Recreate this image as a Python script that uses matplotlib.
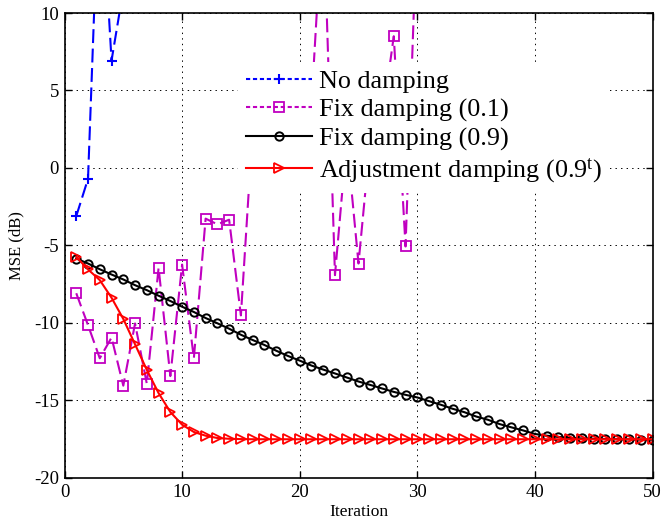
import numpy as np
import matplotlib
matplotlib.use('Agg')
import matplotlib.pyplot as plt
from matplotlib.lines import Line2D

plt.rcParams['font.family'] = ['Liberation Serif', 'DejaVu Serif']
plt.rcParams['mathtext.fontset'] = 'custom'
plt.rcParams['mathtext.rm'] = 'Liberation Serif'
plt.rcParams['mathtext.it'] = 'Liberation Serif:italic'
plt.rcParams['axes.unicode_minus'] = False
plt.rcParams['lines.scale_dashes'] = False

iterations = list(range(1, 51))

# values above 10 dB run off the top of the chart
no_damping = [-3.12, -0.71, 20.0, 6.93, 11.5, 14.0, 17.5, 21.0, 24.5, 28.0,
              31.0, 34.5, 38.0, 41.0, 44.5, 48.0, 51.0, 54.5, 58.0, 61.0,
              64.5, 68.0, 71.0, 74.5, 78.0, 81.0, 84.5, 88.0, 91.0, 94.5,
              98.0, 101.0, 104.5, 108.0, 111.0, 114.5, 118.0, 121.0, 124.5, 128.0,
              131.0, 134.5, 138.0, 141.0, 144.5, 148.0, 151.0, 154.5, 158.0, 161.0]

fix_damping_01 = [-8.10, -10.16, -12.30, -10.96, -14.07, -10.05, -13.95, -6.46, -13.45, -6.25,
                  -12.30, -3.28, -3.65, -3.35, -9.53, 2.5, 4.8, 3.2, 5.4, 6.3,
                  4.1, 17.2, -6.93, 1.8, -6.18, 1.8, 3.0, 8.5, -5.08, 16.5,
                  21.3, 19.8, 24.6, 23.1, 27.5, 25.9, 29.4, 28.2, 31.6, 30.3,
                  33.8, 32.1, 35.2, 34.7, 37.9, 36.4, 39.5, 38.8, 41.2, 40.6]

fix_damping_09 = [-5.86, -6.18, -6.55, -6.89, -7.21, -7.58, -7.90, -8.26, -8.60, -8.97,
                  -9.31, -9.70, -10.04, -10.39, -10.78, -11.12, -11.44, -11.81, -12.15, -12.45,
                  -12.77, -13.03, -13.28, -13.54, -13.80, -14.02, -14.25, -14.47, -14.66, -14.83,
                  -15.07, -15.30, -15.56, -15.78, -16.06, -16.27, -16.55, -16.76, -16.96, -17.19,
                  -17.30, -17.38, -17.45, -17.48, -17.50, -17.52, -17.53, -17.54, -17.55, -17.56]

adjust_damping = [-5.75, -6.56, -7.25, -8.39, -9.76, -11.40, -13.05, -14.55, -15.77, -16.59,
                  -17.06, -17.30, -17.45, -17.50, -17.52, -17.53, -17.53, -17.53, -17.53, -17.53,
                  -17.53, -17.53, -17.53, -17.53, -17.53, -17.53, -17.53, -17.53, -17.53, -17.53,
                  -17.53, -17.53, -17.53, -17.53, -17.53, -17.53, -17.53, -17.53, -17.53, -17.53,
                  -17.53, -17.53, -17.53, -17.53, -17.53, -17.53, -17.53, -17.53, -17.53, -17.53]

labels = ['No damping', 'Fix damping (0.1)', 'Fix damping (0.9)',
          'Adjustment damping (0.9$^{\\mathrm{t}}$)']
colors = ['#0000ff', '#c000c0', '#000000', '#ff0000']

fig = plt.figure(figsize=(6.62, 5.22), dpi=100)
ax = fig.add_axes([64.5 / 662, 1 - 477.5 / 522, (652.5 - 64.5) / 662, (477.5 - 13) / 522])

ax.plot(iterations, no_damping, color=colors[0], lw=1.5, dashes=(10, 4),
        marker='+', ms=7, mew=1.5)
ax.plot(iterations, fix_damping_01, color=colors[1], lw=1.5, dashes=(10, 4),
        marker='s', ms=6.5, mew=1.3, mfc='none')
ax.plot(iterations, fix_damping_09, color=colors[2], lw=1.5,
        marker='o', ms=6, mew=1.4, mfc='none')
ax.plot(iterations, adjust_damping, color=colors[3], lw=1.5,
        marker='>', ms=6.5, mew=1.3, mfc='none')

ax.set_xlim(0, 50)
ax.set_ylim(-20, 10)
ax.set_xticks(np.arange(0, 51, 10))
ax.set_yticks(np.arange(-20, 11, 5))
ax.grid(True, color='black', lw=0.7, linestyle=(0, (1, 3)))
ax.tick_params(direction='in', length=5, width=1, top=True, right=True, labelsize=13.5)
ax.tick_params(axis='x', pad=5)
ax.tick_params(axis='y', pad=4)
for sp in ax.spines.values():
    sp.set_linewidth(1.2)

ax.set_xlabel('Iteration', fontsize=12.5, labelpad=2)
ax.set_ylabel('MSE (dB)', fontsize=12, labelpad=7)

# legend samples use shorter dashes than the plotted curves
handles = [
    Line2D([], [], color=colors[0], lw=1.5, dashes=(3, 2), marker='+', ms=7, mew=1.5),
    Line2D([], [], color=colors[1], lw=1.5, dashes=(3, 2), marker='s', ms=6.5, mew=1.3, mfc='none'),
    Line2D([], [], color=colors[2], lw=1.5, marker='o', ms=6, mew=1.4, mfc='none'),
    Line2D([], [], color=colors[3], lw=1.5, marker='>', ms=6.5, mew=1.3, mfc='none'),
]
leg = ax.legend(handles, labels, loc='upper left', bbox_to_anchor=(238 / 662, 1 - 62 / 522),
                bbox_transform=fig.transFigure, fontsize=18.8, frameon=True, fancybox=False,
                borderpad=0.3, labelspacing=0.2, handlelength=2.55, handletextpad=0.25,
                borderaxespad=0)
leg.get_frame().set_edgecolor('none')
leg.get_frame().set_facecolor('white')
leg.get_frame().set_alpha(1)

fig.savefig('out.png', dpi=100)
